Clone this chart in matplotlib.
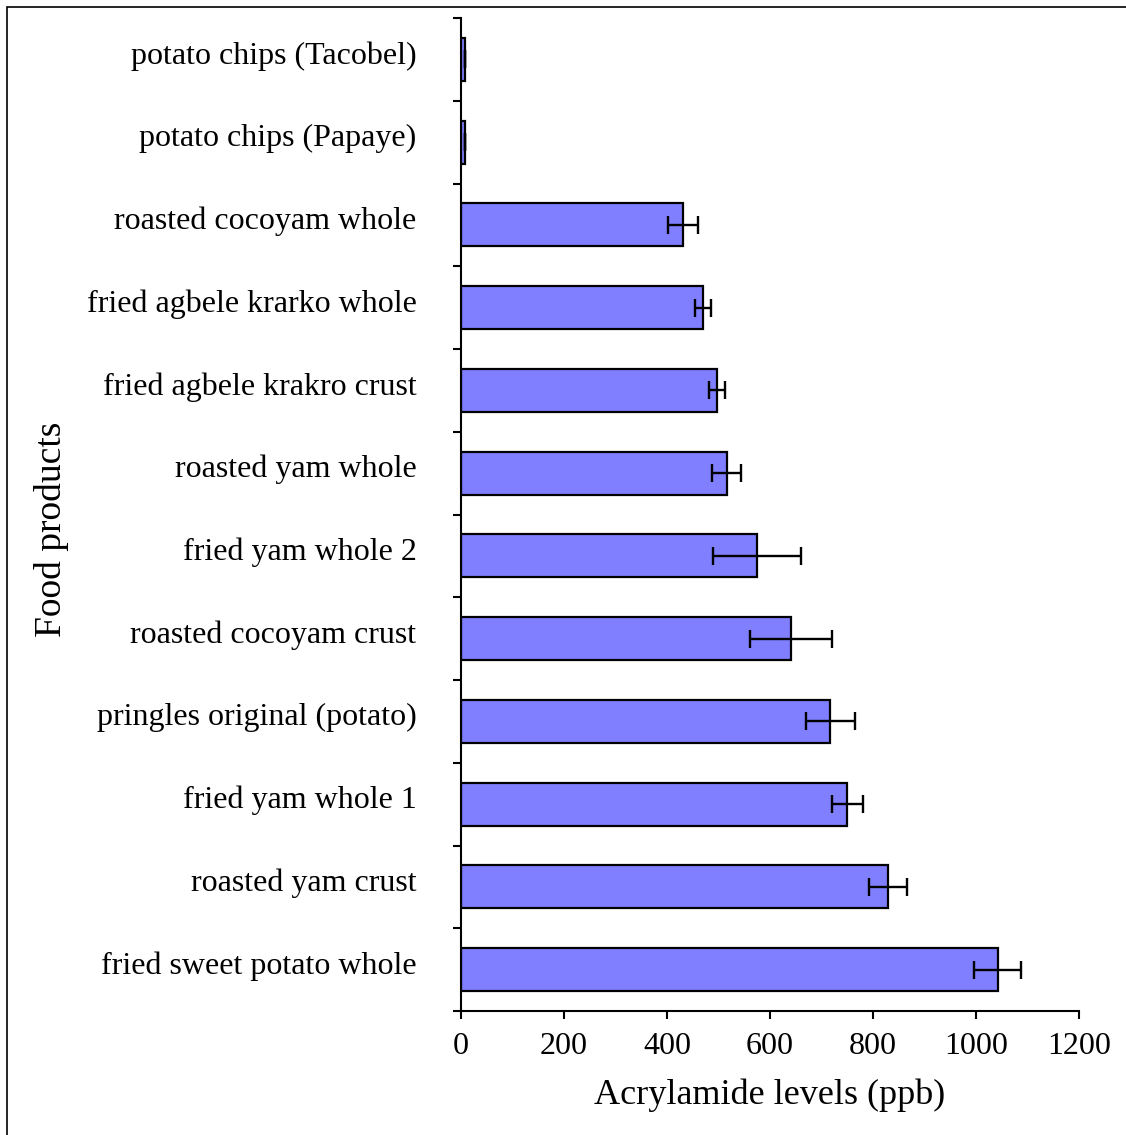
import numpy as np
import matplotlib
matplotlib.use("Agg")
import matplotlib.pyplot as plt
from matplotlib.transforms import ScaledTranslation
from matplotlib.patches import Rectangle

# data, top to bottom as in the figure
foods = ["potato chips (Tacobel)", "potato chips (Papaye)", "roasted cocoyam whole",
         "fried agbele krarko whole", "fried agbele krakro crust", "roasted yam whole",
         "fried yam whole 2", "roasted cocoyam crust", "pringles original (potato)",
         "fried yam whole 1", "roasted yam crust", "fried sweet potato whole"]
acrylamide = [8, 8, 431, 470, 497, 516, 575, 641, 717, 750, 829, 1042]
errors = [0, 0, 29, 16, 16, 28, 85, 80, 48, 30, 37, 45]
xticks = [0, 200, 400, 600, 800, 1000, 1200]

plt.rcParams['font.family'] = ['Liberation Serif', 'DejaVu Serif']

fig = plt.figure(figsize=(11.26, 11.35), dpi=100)
ax = fig.add_axes([461 / 1126, 1 - 1011 / 1135, 618 / 1126, (1011 - 18) / 1135])

pos = np.arange(len(foods))
ax.barh(pos, acrylamide, height=0.52, color='#7f7fff', edgecolor='black', linewidth=1.6,
        xerr=errors, error_kw=dict(ecolor='black', elinewidth=1.7, capsize=6.5, capthick=1.7))

ax.set_ylim(len(foods) - 0.5, -0.5)
ax.set_xlim(0, 1200)
ax.set_xticks(xticks)
ax.set_xticklabels([str(t) for t in xticks], fontsize=23)

ax.set_yticks(pos)
ax.set_yticklabels(foods, fontsize=23)
ax.set_yticks(np.arange(len(foods) + 1) - 0.5, minor=True)
ax.tick_params(axis='y', which='major', length=0, pad=32)
ax.tick_params(axis='y', which='minor', length=6, width=1.5)
ax.tick_params(axis='x', which='major', length=6, width=1.5, pad=9)
for lbl in ax.get_yticklabels():
    lbl.set_transform(lbl.get_transform() + ScaledTranslation(0, 5 / 72, fig.dpi_scale_trans))

ax.spines['right'].set_visible(False)
ax.spines['top'].set_visible(False)
ax.spines['left'].set_linewidth(1.5)
ax.spines['bottom'].set_linewidth(1.5)

ax.set_xlabel("Acrylamide levels (ppb)", fontsize=26, labelpad=13)
ax.set_ylabel("Food products", fontsize=27)
ax.yaxis.set_label_coords(-0.634, 0.485)

# frame around the figure (only top and left edges are in view)
fig.patches.append(Rectangle((7 / 1126, -0.05), 1.2, 1 - 7 / 1135 + 0.05,
                             transform=fig.transFigure, fill=False,
                             edgecolor='black', linewidth=1.2))

fig.savefig("out.png", dpi=100)
